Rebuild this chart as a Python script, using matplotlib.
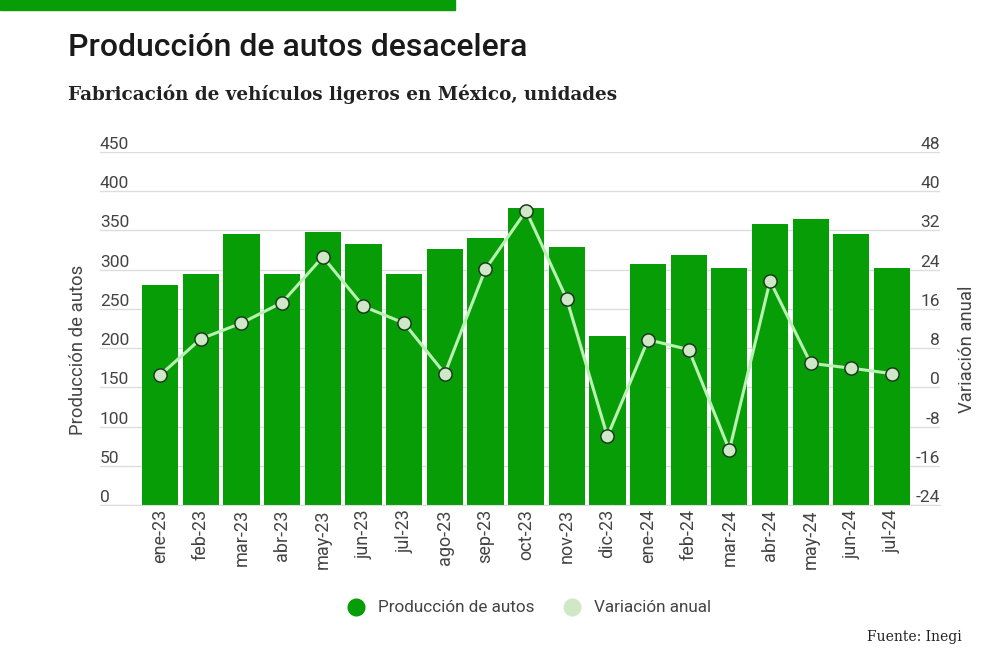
import matplotlib
matplotlib.use("Agg")
import matplotlib.pyplot as plt
from matplotlib.lines import Line2D
import numpy as np

months = ["ene-23", "feb-23", "mar-23", "abr-23", "may-23", "jun-23", "jul-23",
          "ago-23", "sep-23", "oct-23", "nov-23", "dic-23", "ene-24", "feb-24",
          "mar-24", "abr-24", "may-24", "jun-24", "jul-24"]
produccion = [280, 295, 346, 295, 348, 333, 295, 326, 340, 379, 329, 215,
              307, 319, 302, 358, 365, 345, 302]
variacion = [2.5, 9.9, 13.1, 17.3, 26.6, 16.5, 13.1, 2.8, 24.1, 36.0, 18.0, -10.0,
             9.7, 7.7, -12.8, 21.7, 4.9, 3.9, 2.8]
left_ticks = [0, 50, 100, 150, 200, 250, 300, 350, 400, 450]
right_ticks = [-24, -16, -8, 0, 8, 16, 24, 32, 40, 48]

BAR = "#079d07"
LINE = "#b9f1b3"
MFACE = "#cfe9c8"
TXT = "#444444"

plt.rcParams['font.family'] = ['Roboto', 'DejaVu Sans']

fig = plt.figure(figsize=(10, 6.66), dpi=100)
ax = fig.add_axes([0.10, 1 - 505 / 666, 0.84, (505 - 152) / 666])
ax2 = ax.twinx()

x = np.arange(len(months))
ax.bar(x, produccion, width=0.89, color=BAR, zorder=2)
ax.set_ylim(0, 450)
ax.set_xlim(-1.48, 19.18)
ax.set_yticks(left_ticks)
ax.set_yticklabels([str(t) for t in left_ticks])
ax.grid(axis='y', color='#dddddd', linewidth=1, zorder=0)
ax.set_axisbelow(True)
for s in ax.spines.values():
    s.set_visible(False)
for s in ax2.spines.values():
    s.set_visible(False)
ax.spines['bottom'].set_visible(True)
ax.spines['bottom'].set_color('#dddddd')

ax.tick_params(axis='y', length=0, pad=0, labelsize=12.5, labelcolor=TXT)
for lbl in ax.get_yticklabels():
    lbl.set_horizontalalignment('left')
    lbl.set_verticalalignment('bottom')
ax.set_xticks(x)
ax.set_xticklabels(months, rotation=90)
ax.tick_params(axis='x', length=0, pad=3, labelsize=13, labelcolor=TXT)

ax2.plot(x, variacion, color=LINE, linewidth=2.2, marker='o', markersize=9.5,
         markerfacecolor=MFACE, markeredgecolor='#1e3a1e', markeredgewidth=1.1, zorder=3)
ax2.set_ylim(-24, 48)
ax2.set_yticks(right_ticks)
ax2.set_yticklabels([str(t) for t in right_ticks])
ax2.tick_params(axis='y', length=0, pad=0, labelsize=12.5, labelcolor=TXT)
for lbl in ax2.get_yticklabels():
    lbl.set_horizontalalignment('right')
    lbl.set_verticalalignment('bottom')

ax.set_ylabel("Producción de autos", fontsize=13.3, color=TXT)
ax.yaxis.set_label_coords(-0.015, 0.44)
ax2.set_ylabel("Variación anual", fontsize=13.3, color=TXT)
ax2.yaxis.set_label_coords(1.022, 0.44)

# top accent bar
fig.patches.append(plt.Rectangle((0, 1 - 10 / 666), 0.455, 10 / 666,
                                 transform=fig.transFigure, color=BAR, zorder=0))

fig.text(0.068, 1 - 56 / 666, "Producción de autos desacelera", fontsize=23,
         fontweight='medium', color='#1a1a1a', va='baseline')
fig.text(0.068, 1 - 100 / 666, "Fabricación de vehículos ligeros en México, unidades",
         fontsize=13.2, fontweight='bold', color='#222222', va='baseline',
         family=['DejaVu Serif'])
fig.text(0.962, 1 - 641 / 666, "Fuente: Inegi", fontsize=10, color='#222222',
         ha='right', va='baseline', family=['DejaVu Serif'])

handles = [Line2D([], [], linestyle='none', marker='o', markersize=12, color=BAR),
           Line2D([], [], linestyle='none', marker='o', markersize=12, color=MFACE)]
fig.legend(handles, ["Producción de autos", "Variación anual"], loc='center',
           bbox_to_anchor=(0.525, 1 - 608 / 666), ncol=2, frameon=False,
           fontsize=12.3, labelcolor=TXT, handletextpad=0.3, columnspacing=1.2)

fig.savefig("out.png", dpi=100, facecolor='white')
